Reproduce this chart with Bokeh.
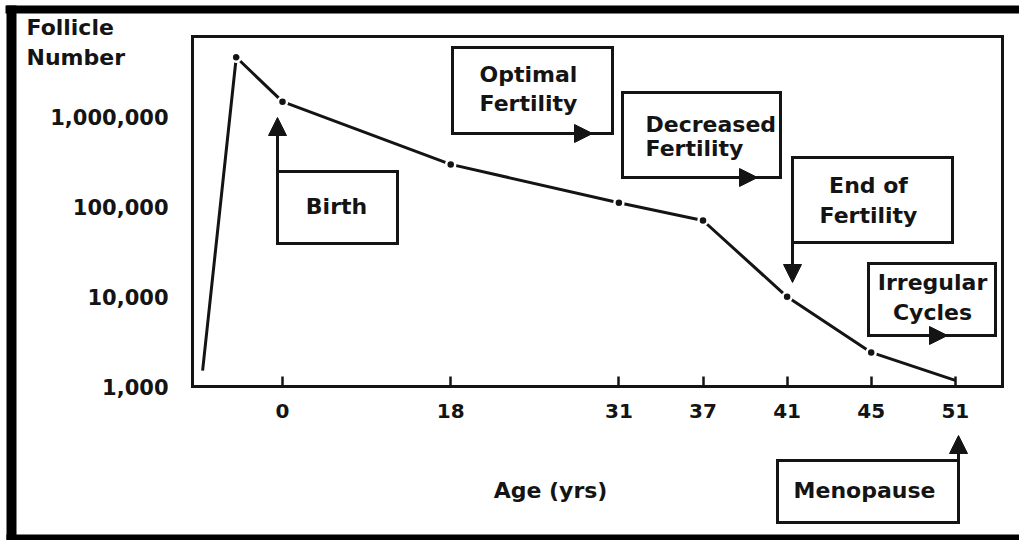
from bokeh.plotting import figure
from bokeh.models import (Range1d, FixedTicker, NumeralTickFormatter, Label,
                          Arrow, NormalHead, PolyAnnotation)
from bokeh.embed import file_html
from bokeh.resources import INLINE

# ---------------- data ----------------
tick_labels = ["0", "18", "31", "37", "41", "45", "51"]      # age (yrs)
tick_slots = [0, 2, 4, 5, 6, 7, 8]                           # ordinal axis position of each age
point_slots = [-0.95, -0.55, 0, 2, 4, 5, 6, 7, 8]            # prenatal points, then ages above
follicles = [1500, 4700000, 1500000, 300000, 112000, 71000, 10000, 2400, 1170]
dot_slots = point_slots[1:8]
dot_values = follicles[1:8]
y_ticks = [1000, 10000, 100000, 1000000]

# ---------------- layout helpers ----------------
INK = "#141414"
FONT = "DejaVu Sans"
W, H = 1019, 540
FL, FR, FT, FB = 192, 1002, 36, 386       # chart box edges (pixels)
X0, XU, DEC = 282, 84.1, 89.67            # x of age 0, px per slot, px per decade


def dx(X):
    return (X - X0) / XU


def dy(Y):
    return 10 ** (3 + (FB - Y) / DEC)


p = figure(width=W, height=H, output_backend="svg", toolbar_location=None,
           y_axis_type="log", title=None,
           x_range=Range1d(dx(0), dx(W)), y_range=Range1d(dy(H), dy(0)),
           min_border=0, min_border_left=0, min_border_right=0,
           min_border_top=0, min_border_bottom=0)
p.background_fill_color = "white"
p.border_fill_color = "white"
p.outline_line_color = None
p.xgrid.visible = False
p.ygrid.visible = False

# x axis, pinned to the bottom edge of the chart box
p.xaxis.fixed_location = dy(FB)
p.xaxis.ticker = FixedTicker(ticks=tick_slots)
p.xaxis.major_label_overrides = {s: l for s, l in zip(tick_slots, tick_labels)}
p.xaxis.axis_line_color = None
p.xaxis.major_tick_in = 10
p.xaxis.major_tick_out = 0
p.xaxis.major_tick_line_color = INK
p.xaxis.major_tick_line_width = 2.5
p.xaxis.minor_tick_line_color = None
p.xaxis.major_label_standoff = 17
p.xaxis.major_label_text_font = FONT
p.xaxis.major_label_text_font_style = "bold"
p.xaxis.major_label_text_font_size = "20px"
p.xaxis.major_label_text_color = INK

# y axis, pinned to the left edge of the chart box
p.yaxis.fixed_location = dx(FL)
p.yaxis.ticker = FixedTicker(ticks=y_ticks)
p.yaxis.formatter = NumeralTickFormatter(format="0,0")
p.yaxis.axis_line_color = None
p.yaxis.major_tick_in = 0
p.yaxis.major_tick_out = 0
p.yaxis.major_tick_line_color = None
p.yaxis.minor_tick_line_color = None
p.yaxis.major_label_standoff = 24
p.yaxis.major_label_text_font = FONT
p.yaxis.major_label_text_font_style = "bold"
p.yaxis.major_label_text_font_size = "21px"
p.yaxis.major_label_text_color = INK


# annotations
def box(l, r, t, b, fill=None, lw=3):
    p.add_layout(PolyAnnotation(xs=[dx(l), dx(r), dx(r), dx(l)],
                                ys=[dy(t), dy(t), dy(b), dy(b)],
                                fill_color=fill if fill else "white",
                                fill_alpha=1 if fill else 0,
                                line_color=INK if lw else None,
                                line_alpha=1, line_width=lw, line_join="miter"))


def arrow(x1, y1, x2, y2, size=18):
    p.add_layout(Arrow(end=NormalHead(size=size, fill_color=INK, line_color=INK, line_width=1),
                       x_start=dx(x1), y_start=dy(y1), x_end=dx(x2), y_end=dy(y2),
                       line_color=INK, line_width=3))


def text(s, X, Y, align="center", size="22px"):
    p.add_layout(Label(x=dx(X), y=dy(Y), text=s, text_align=align, text_baseline="middle",
                       text_font=FONT, text_font_style="bold", text_font_size=size,
                       text_color=INK))


# chart box
box(FL, FR, FT, FB)

# series
p.line(point_slots, follicles, line_width=3, line_color=INK)
p.scatter(dot_slots, dot_values, size=9, fill_color=INK, line_color="white", line_width=2.5)

# Birth
box(277, 397, 171, 243)
arrow(277, 171, 277, 117)
text("Birth", 336, 206)
# Optimal fertility
box(452, 612, 47, 133)
arrow(560, 133, 592, 133)
text("Optimal", 528, 74)
text("Fertility", 528, 103)
# Decreased fertility
box(622, 780, 92, 177)
arrow(725, 177, 757, 177)
text("Decreased", 645, 124, align="left")
text("Fertility", 645, 148, align="left")
# End of fertility
box(792, 952, 157, 242)
arrow(792, 242, 792, 282)
text("End of", 868, 185)
text("Fertility", 868, 215)
# Irregular cycles
box(868, 995, 263, 335)
arrow(915, 335, 947, 335)
text("Irregular", 932, 282)
text("Cycles", 932, 312)
# Menopause
box(777, 958, 460, 522)
arrow(958, 460, 958, 435)
text("Menopause", 864, 490)

# axis titles
text("Age (yrs)", 550, 490)
text("Follicle", 26, 27, align="left")
text("Number", 26, 57, align="left")

# screenshot border bands
box(5, W, 5, 13, fill="black", lw=0)
box(6, 16, 5, H, fill="black", lw=0)
box(6, W, 534, H, fill="black", lw=0)

open("out.html", "w").write(file_html(p, INLINE))
